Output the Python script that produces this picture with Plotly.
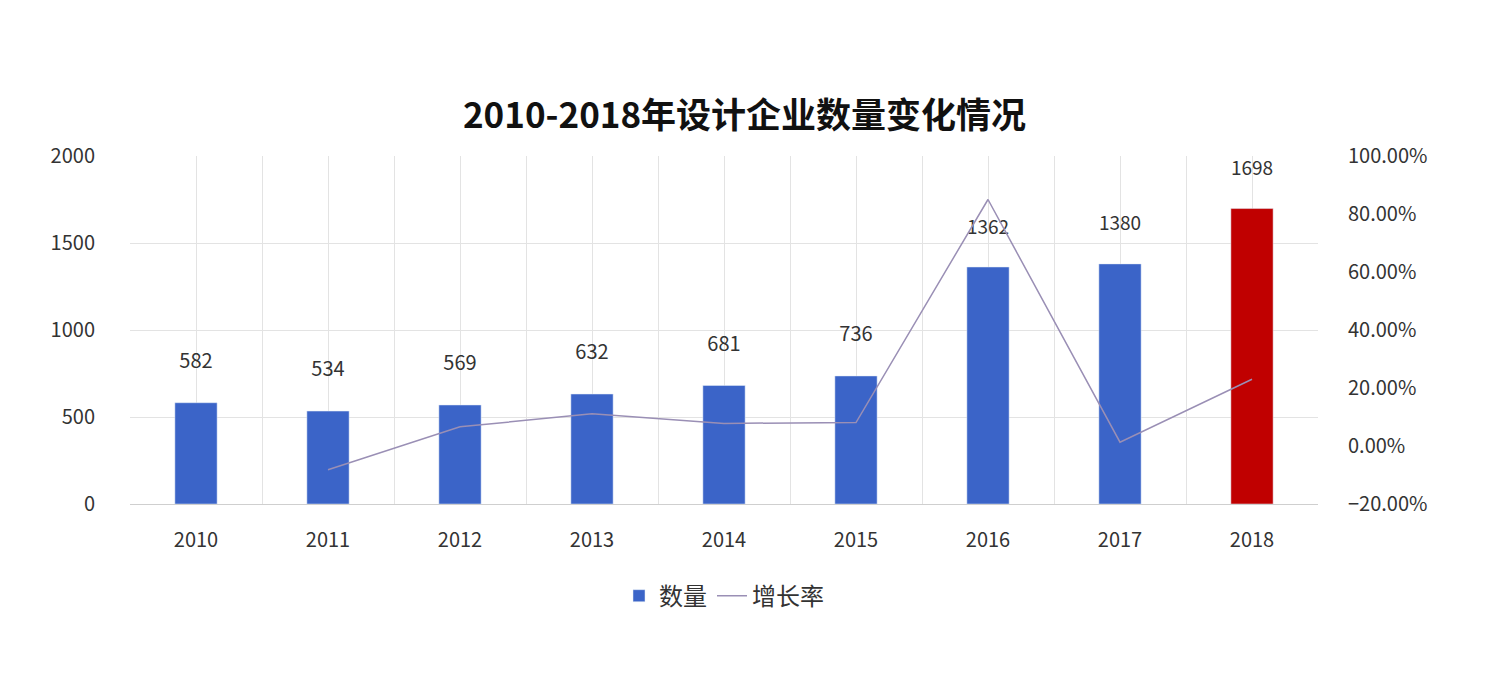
import plotly.graph_objects as go

years = ["2010","2011","2012","2013","2014","2015","2016","2017","2018"]
counts = [582, 534, 569, 632, 681, 736, 1362, 1380, 1698]
growth = [None, -8.2, 6.6, 11.1, 7.8, 8.1, 85.0, 1.3, 23.0]
bar_colors = ["#3b64c8"]*8 + ["#c00000"]

x = list(range(len(years)))
font = "Noto Sans CJK SC"
fig = go.Figure()
fig.add_bar(x=x, y=counts, name="数量", marker_color=bar_colors, width=0.32,
            text=[f"{c}<br> " for c in counts], textposition="outside",
            textfont=dict(size=20, color="#333"), cliponaxis=False)
fig.add_scatter(x=x, y=growth, name="增长率", mode="lines", yaxis="y2",
                line=dict(color="#9a8fb5", width=1.5))
fig.update_layout(
    width=1497, height=680, paper_bgcolor="white", plot_bgcolor="white",
    font=dict(family=font, size=20, color="#333"),
    title=dict(text="<b>2010-2018年设计企业数量变化情况</b>", x=0.492, y=0.86,
               xanchor="center", font=dict(size=35, color="#111")),
    margin=dict(l=122, r=187, t=148, b=184),
    xaxis=dict(range=[-0.5, 8.5], tickvals=x, ticktext=years, showgrid=True,
               gridcolor="#e3e3e3", minor=dict(dtick=0.5, tick0=-0.5, showgrid=True, gridcolor="#e3e3e3"),
               showline=True, linecolor="#cfcfcf", zeroline=False, ticks="outside",
               ticklen=18, tickcolor="white"),
    yaxis=dict(range=[0, 2000], dtick=500, gridcolor="#e3e3e3", zeroline=False, ticks="outside",
               ticklen=30, tickcolor="white"),
    yaxis2=dict(range=[-20, 100], dtick=20, overlaying="y", side="right", showgrid=False,
                ticksuffix=".00%", zeroline=False, ticks="outside", ticklen=25, tickcolor="white"),
    showlegend=True,
    legend=dict(orientation="h", x=0.5, xanchor="center", y=-0.2, yanchor="top",
                font=dict(size=24)),
    bargap=0.6,
)
fig.write_html("out.html")
